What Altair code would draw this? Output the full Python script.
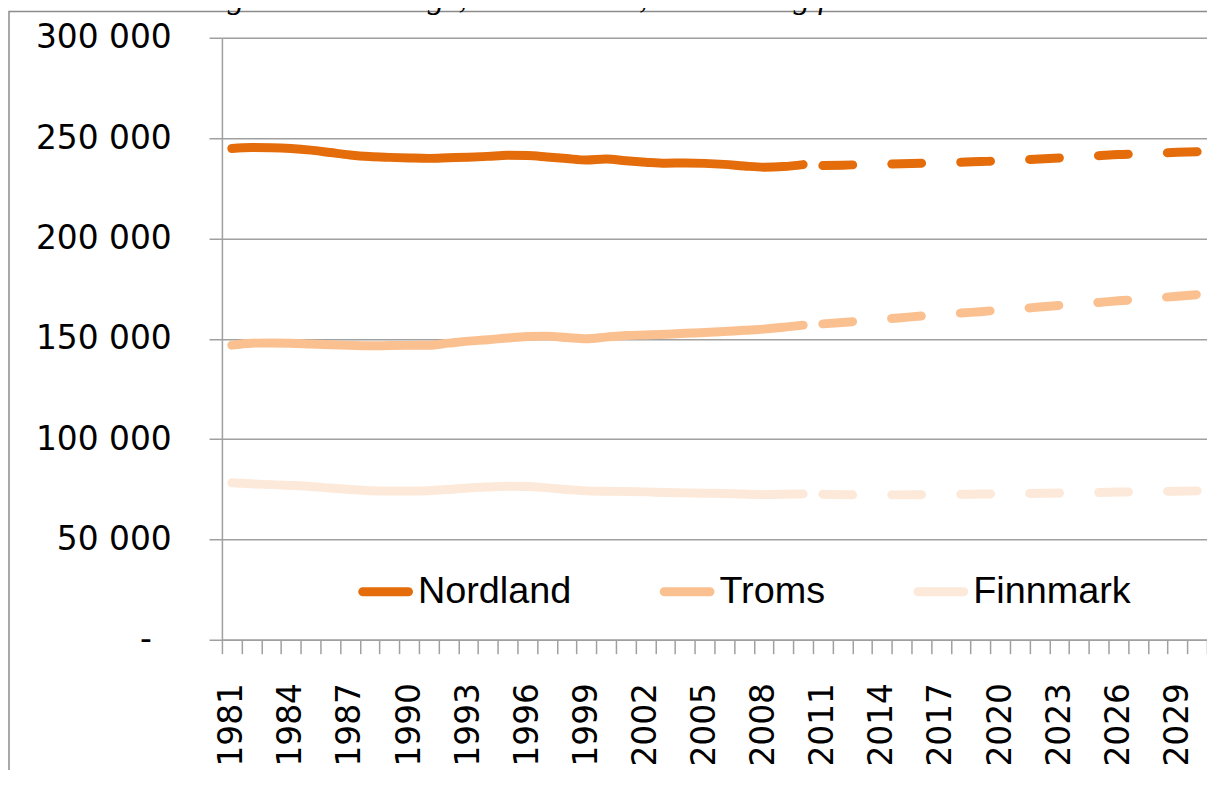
import altair as alt
import pandas as pd

# ---- data ----
counties = ["Nordland", "Troms", "Finnmark"]
colors = ["#E46C0A", "#FAC090", "#FDE9D9"]

hist_years = list(range(1981, 2011))
nordland_hist = [244800, 245300, 245200, 244800, 244000, 242800, 241600, 240800, 240400, 240100,
                 239900, 240200, 240500, 240900, 241400, 241300, 240600, 239800, 239100, 239600,
                 238700, 238000, 237500, 237600, 237400, 236900, 236100, 235500, 235800, 236800]
troms_hist = [146800, 147800, 147900, 147800, 147400, 147000, 146700, 146500, 146600, 146700,
              146800, 147800, 148800, 149500, 150400, 151100, 151300, 150600, 150000, 150800,
              151600, 151900, 152200, 152700, 153100, 153600, 154200, 154800, 155700, 156800]
finnmark_hist = [78200, 77700, 77300, 76900, 76400, 75600, 74900, 74300, 74100, 74100,
                 74300, 74900, 75600, 76100, 76500, 76400, 75700, 74900, 74200, 74000,
                 73900, 73700, 73400, 73200, 73000, 72900, 72600, 72400, 72500, 72700]

proj_years = list(range(2011, 2031))
nordland_proj = [236300, 236500, 236800, 237000, 237200, 237500, 237700, 238000, 238300, 238600,
                 239100, 239600, 240100, 240600, 241200, 241800, 242100, 242500, 242900, 243200]
troms_proj = [157400, 158100, 158900, 159700, 160500, 161300, 162000, 162800, 163500, 164300,
              165000, 165800, 166600, 167400, 168100, 168900, 169600, 170400, 171200, 172000]
finnmark_proj = [72500, 72300, 72200, 72200, 72200, 72300, 72400, 72500, 72600, 72700,
                 72800, 73000, 73100, 73300, 73400, 73600, 73700, 73900, 74000, 74200]

y_ticks = [0, 50000, 100000, 150000, 200000, 250000, 300000]
label_years = list(range(1981, 2030, 3))
title_text = "Folketallsutviklingen i Nord-Norge, 1981 – 2030, historisk og framskrevet."

# ---- tables ----
def long(years, series):
    rows = []
    for name, vals in zip(counties, series):
        for yr, v in zip(years, vals):
            rows.append({"year": yr, "value": v, "county": name})
    return pd.DataFrame(rows)

hist_df = long(hist_years, [nordland_hist, troms_hist, finnmark_hist])
proj_df = long(proj_years, [nordland_proj, troms_proj, finnmark_proj])

half_years = [y - 0.5 for y in range(1981, 2032)]
grey = "#A0A0A0"
x_scale = alt.Scale(domain=[1980.5, 2030.5], nice=False, zero=False)

x_tick_axis = alt.X(
    "year:Q", scale=x_scale,
    axis=alt.Axis(
        title=None, orient="bottom", values=half_years, labels=False, grid=False,
        tickSize=14, domainColor=grey, tickColor=grey, domainWidth=1.5, tickWidth=1.5,
    ),
)

x_label_axis = alt.X(
    "year:Q", scale=x_scale,
    axis=alt.Axis(
        title=None, orient="bottom", values=label_years, format="d", grid=False,
        ticks=False, domain=False, labelAngle=270, labelAlign="right",
        labelBaseline="middle", labelOverlap=False, labelPadding=43,
        labelFont="DejaVu Sans", labelFontSize=33, labelColor="#000000",
    ),
)

y_enc = alt.Y(
    "value:Q",
    scale=alt.Scale(domain=[0, 300000], nice=False),
    axis=alt.Axis(
        title=None, values=y_ticks,
        labelExpr="datum.value == 0 ? '-' : replace(format(datum.value, ','), ',', ' ')",
        labelPadding={"condition": {"test": "datum.value == 0", "value": 58}, "value": 38},
        tickSize=13, labelFont="DejaVu Sans", labelFontSize=33,
        labelColor="#000000", grid=True, gridColor=grey, gridWidth=1.5,
        domainColor=grey, tickColor=grey, domainWidth=1.5, tickWidth=1.5,
    ),
)

color_scale = alt.Scale(domain=counties, range=colors)

capsule = ("M-0.92,-0.08 L0.92,-0.08 A0.08,0.08 0 0 1 0.92,0.08 "
           "L-0.92,0.08 A0.08,0.08 0 0 1 -0.92,-0.08 Z")

hist = alt.Chart(hist_df).mark_line(strokeWidth=9, strokeCap="round", strokeJoin="round",
                                    interpolate="monotone").encode(
    x=x_tick_axis,
    y=y_enc,
    color=alt.Color(
        "county:N", scale=color_scale, sort=counties,
        legend=alt.Legend(
            title=None, orient="none", direction="horizontal",
            legendX=137, legendY=529, padding=0,
            symbolType=capsule, symbolSize=2500, symbolStrokeWidth=5,
            symbolDash=[1, 0],
            labelFont="Liberation Sans", labelFontSize=38, labelColor="#000000",
            labelOffset=5, columnPadding=80, labelLimit=400,
        ),
    ),
    detail="county:N",
)

proj = alt.Chart(proj_df).mark_line(strokeWidth=9, strokeCap="round", strokeJoin="round",
                                    strokeDash=[30, 39.3], interpolate="monotone").encode(
    x=x_label_axis,
    y=alt.Y("value:Q"),
    color=alt.Color("county:N", scale=color_scale, legend=None),
    detail="county:N",
)

frame = alt.Chart(pd.DataFrame({"a": [0]})).mark_rect(
    filled=False, stroke="#8C8C8C", strokeWidth=1.5, clip=False
).encode(x=alt.value(-214), x2=alt.value(1100), y=alt.value(-26.5), y2=alt.value(900))

title = alt.Chart(pd.DataFrame({"t": [title_text]})).mark_text(
    align="left", baseline="alphabetic", font="Liberation Serif", fontStyle="italic",
    fontSize=33, color="#000000", clip=False
).encode(x=alt.value(-225), y=alt.value(-30), text="t:N")

chart = alt.layer(hist, proj, frame, title).resolve_scale(
    x="independent"
).resolve_axis(
    x="independent"
).properties(
    width=990, height=605,
    autosize=alt.AutoSizeParams(type="none"),
    padding={"left": 215, "top": 28, "right": 0, "bottom": 129},
).configure_view(stroke=None).configure(background="#FFFFFF")

chart.save("out.html", embed_options={"renderer": "svg", "actions": False})
